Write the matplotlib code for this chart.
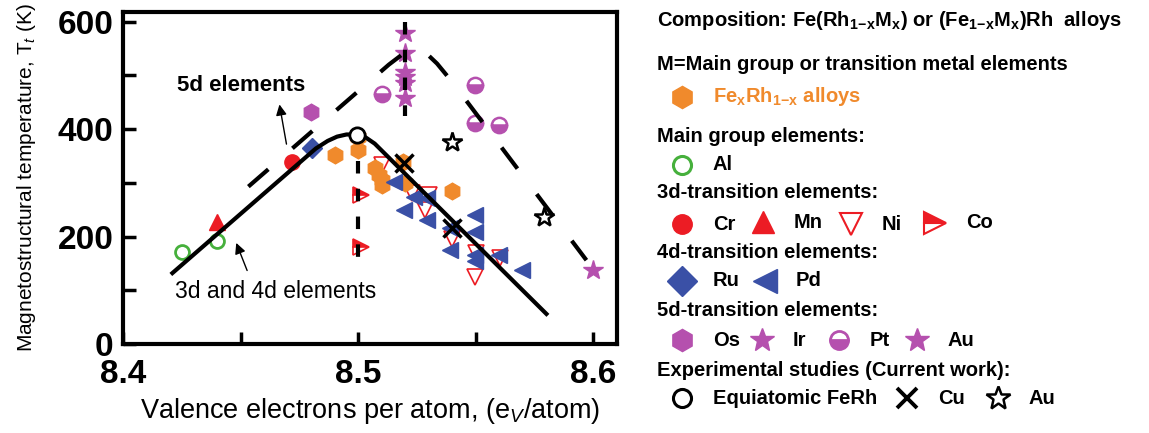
import numpy as np
import matplotlib.pyplot as plt

plt.rcParams['font.family'] = ['Liberation Sans', 'DejaVu Sans']
plt.rcParams['mathtext.fontset'] = 'custom'
plt.rcParams['mathtext.rm'] = 'Liberation Sans'
plt.rcParams['mathtext.it'] = 'Liberation Sans:italic'
plt.rcParams['mathtext.bf'] = 'Liberation Sans:bold'
plt.rcParams['lines.scale_dashes'] = False

ORANGE = '#F08A2C'
PURPLE = '#B550AE'
BLUE = '#3A50A6'
RED = '#EC1C24'
GREEN = '#46B03C'

# literature data: valence electrons per atom vs transition temperature (K)
ferh_x = [8.4902, 8.5, 8.5, 8.507, 8.509, 8.51, 8.51, 8.519, 8.52, 8.54]
ferh_y = [352, 385, 361, 327, 315, 305, 296, 339, 300, 284]
al_x = [8.425, 8.44]
al_y = [172, 192]
cr_x = [8.472]
cr_y = [339]
mn_x = [8.44]
mn_y = [228]
ni_x = [8.51, 8.523, 8.53, 8.5285, 8.54, 8.5498, 8.5604, 8.55]
ni_y = [333, 281, 278, 249, 195, 125, 160, 170]
co_x = [8.501, 8.501]
co_y = [277, 181]
ru_x = [8.4803]
ru_y = [364]
pd_x = [8.515, 8.5235, 8.5292, 8.5193, 8.5292, 8.5391, 8.5498, 8.5498,
        8.5391, 8.5498, 8.5498, 8.5597, 8.5697]
pd_y = [302, 274, 271, 249, 231, 215, 240, 209, 175, 166, 155, 166, 138]
os_x = [8.48]
os_y = [432]
ir_x = [8.52, 8.52, 8.52, 8.52, 8.52, 8.52]
ir_y = [579, 541, 507, 497, 486, 458]
pt_x = [8.51, 8.5498, 8.5498, 8.5597]
pt_y = [466, 482, 411, 407]
au_x = [8.6]
au_y = [138]

# current work
eq_x = [8.4996]
eq_y = [389]
cu_x = [8.5196, 8.5399]
cu_y = [337, 216]
au_cw_x = [8.5399, 8.5789]
au_cw_y = [376, 237]

# guide curves
solid_x = [8.421, 8.482, 8.487, 8.491, 8.495, 8.499, 8.503, 8.507, 8.58]
solid_y = [132, 364, 378, 386, 390, 390, 385, 373, 56]
dash_x = [8.4533, 8.513, 8.519, 8.5235, 8.528, 8.5335, 8.5399, 8.597]
dash_y = [293, 520, 540, 549, 545, 522, 488, 156]
vline_x = [8.5, 8.52]
vline_top = [340, 600]
vline_bot = [155, 425]

fig = plt.figure(figsize=(11.49, 4.33), dpi=100)
ax = fig.add_axes([123 / 1149, 89 / 433, 494 / 1149, 332 / 433])
ax.set_xlim(8.4, 8.61)
ax.set_ylim(0, 618)

ax.plot(ferh_x, ferh_y, ls='none', marker='h', ms=12, color=ORANGE, mec=ORANGE, zorder=2)
ax.plot(ni_x, ni_y, ls='none', marker='v', ms=12, mfc='white', mec=RED, mew=1.2, zorder=1)
ax.plot(pd_x, pd_y, ls='none', marker='<', ms=12, color=BLUE, zorder=3)
ax.plot(ru_x, ru_y, ls='none', marker='D', ms=10, color=BLUE, zorder=3)
ax.plot(al_x, al_y, ls='none', marker='o', ms=10, mfc='white', mec=GREEN, mew=2, zorder=3)
ax.plot(cr_x, cr_y, ls='none', marker='o', ms=11, color=RED, zorder=3)
ax.plot(mn_x, mn_y, ls='none', marker='^', ms=12, color=RED, zorder=3)
ax.plot(co_x, co_y, ls='none', marker='>', ms=12, color=RED, fillstyle='top',
        markerfacecoloralt='white', mec=RED, mew=1.2, zorder=3)
ax.plot(os_x, os_y, ls='none', marker='h', ms=12, color=PURPLE, zorder=3)
ax.plot(ir_x, ir_y, ls='none', marker='*', ms=15, color=PURPLE, zorder=3)
ax.plot(pt_x, pt_y, ls='none', marker='o', ms=11, color=PURPLE, fillstyle='bottom',
        markerfacecoloralt='white', mec=PURPLE, mew=1.8, zorder=3)
ax.plot(au_x, au_y, ls='none', marker='*', ms=15, color=PURPLE, zorder=3)

ax.plot(solid_x, solid_y, color='k', lw=3, zorder=5)
ax.plot(dash_x, dash_y, color='k', lw=3, dashes=(19, 23), zorder=5)
for x, top, bot in zip(vline_x, vline_top, vline_bot):
    ax.plot([x, x], [top, bot], color='k', lw=3, dashes=(9, 11), zorder=5)

ax.plot(eq_x, eq_y, ls='none', marker='o', ms=11, mfc='white', mec='k', mew=2, zorder=6)
ax.plot(cu_x, cu_y, ls='none', marker='x', ms=13, mec='k', mew=2.5, zorder=6)
ax.plot(au_cw_x, au_cw_y, ls='none', marker='*', ms=15, mfc='white', mec='k', mew=1.8, zorder=6)

ax.annotate('', xy=(8.4663, 451), xytext=(8.4697, 367),
            arrowprops=dict(arrowstyle='-|>', color='k', lw=1, mutation_scale=16))
ax.annotate('', xy=(8.4477, 193), xytext=(8.4532, 132),
            arrowprops=dict(arrowstyle='-|>', color='k', lw=1, mutation_scale=16))
ax.text(8.4502, 482, '5d elements', fontsize=16, fontweight='bold', ha='center', va='center')
ax.text(8.4647, 97, '3d and 4d elements', fontsize=16.5, ha='center', va='center')

ax.set_xticks([8.4, 8.5, 8.6])
ax.set_xticklabels(['8.4', '8.5', '8.6'])
ax.set_xticks([8.45, 8.55], minor=True)
ax.set_yticks([0, 200, 400, 600])
ax.set_yticks([100, 300, 500], minor=True)
ax.tick_params(which='both', direction='in', width=2.5, labelsize=24, pad=7, length=9)
ax.tick_params(axis='x', pad=11)
for lab in ax.get_xticklabels() + ax.get_yticklabels():
    lab.set_fontweight('bold')
for sp in ax.spines.values():
    sp.set_linewidth(3)

ax.set_xlabel('Valence electrons per atom, (e$_V$/atom)', fontsize=19.5, labelpad=4)
ax.set_ylabel('Magnetostructural temperature, T$_t$ (K)', fontsize=15, labelpad=14)

# key panel on the right, in pixel units
lg = fig.add_axes([640 / 1149, 0, 509 / 1149, 1])
lg.set_xlim(640, 1149)
lg.set_ylim(433, 0)
lg.axis('off')

hdr = dict(fontsize=14.5, fontweight='bold', va='center', ha='left')
lg.text(657, 20, r'Composition: Fe(Rh$_{\mathbf{1\!-\!x}}$M$_{\mathbf{x}}$) or '
        r'(Fe$_{\mathbf{1\!-\!x}}$M$_{\mathbf{x}}$)Rh  alloys', **hdr)
lg.text(657, 65, 'M=Main group or transition metal elements', **hdr)
lg.text(713, 97, r'Fe$_{\mathbf{x}}$Rh$_{\mathbf{1\!-\!x}}$ alloys', color=ORANGE, **hdr)
lg.text(657, 137, 'Main group elements:', **hdr)
lg.text(657, 193, '3d-transition elements:', **hdr)
lg.text(657, 253, '4d-transition elements:', **hdr)
lg.text(657, 310, '5d-transition elements:', **hdr)
lg.text(657, 370, 'Experimental studies (Current work):', **hdr)

lg.plot(682, 97, marker='h', ms=16, color=ORANGE)

keys = [
    (682, 165, 'Al', dict(marker='o', ms=13, mfc='white', mec=GREEN, mew=2.2)),
    (682, 224, 'Cr', dict(marker='o', ms=14, color=RED)),
    (763, 222, 'Mn', dict(marker='^', ms=16, color=RED)),
    (851, 224, 'Ni', dict(marker='v', ms=16, mfc='white', mec=RED, mew=1.5)),
    (935, 223, 'Co', dict(marker='>', ms=16, color=RED, fillstyle='top',
                          markerfacecoloralt='white', mec=RED, mew=1.5)),
    (682, 281, 'Ru', dict(marker='D', ms=15, color=BLUE)),
    (765, 281, 'Pd', dict(marker='<', ms=17, color=BLUE)),
    (682, 340, 'Os', dict(marker='h', ms=16, color=PURPLE)),
    (762, 340, 'Ir', dict(marker='*', ms=18, color=PURPLE)),
    (839, 340, 'Pt', dict(marker='o', ms=13, color=PURPLE, fillstyle='bottom',
                          markerfacecoloralt='white', mec=PURPLE, mew=2)),
    (917, 340, 'Au', dict(marker='*', ms=18, color=PURPLE)),
    (682, 398, 'Equiatomic FeRh', dict(marker='o', ms=13, mfc='white', mec='k', mew=2.2)),
    (907, 398, 'Cu', dict(marker='x', ms=15, mec='k', mew=2.8)),
    (998, 398, 'Au', dict(marker='*', ms=18, mfc='white', mec='k', mew=1.8)),
]
for kx, ky, name, style in keys:
    lg.plot(kx, ky, ls='none', **style)
    lg.text(kx + 31, ky, name, **hdr)

fig.savefig('out.png', dpi=100)
